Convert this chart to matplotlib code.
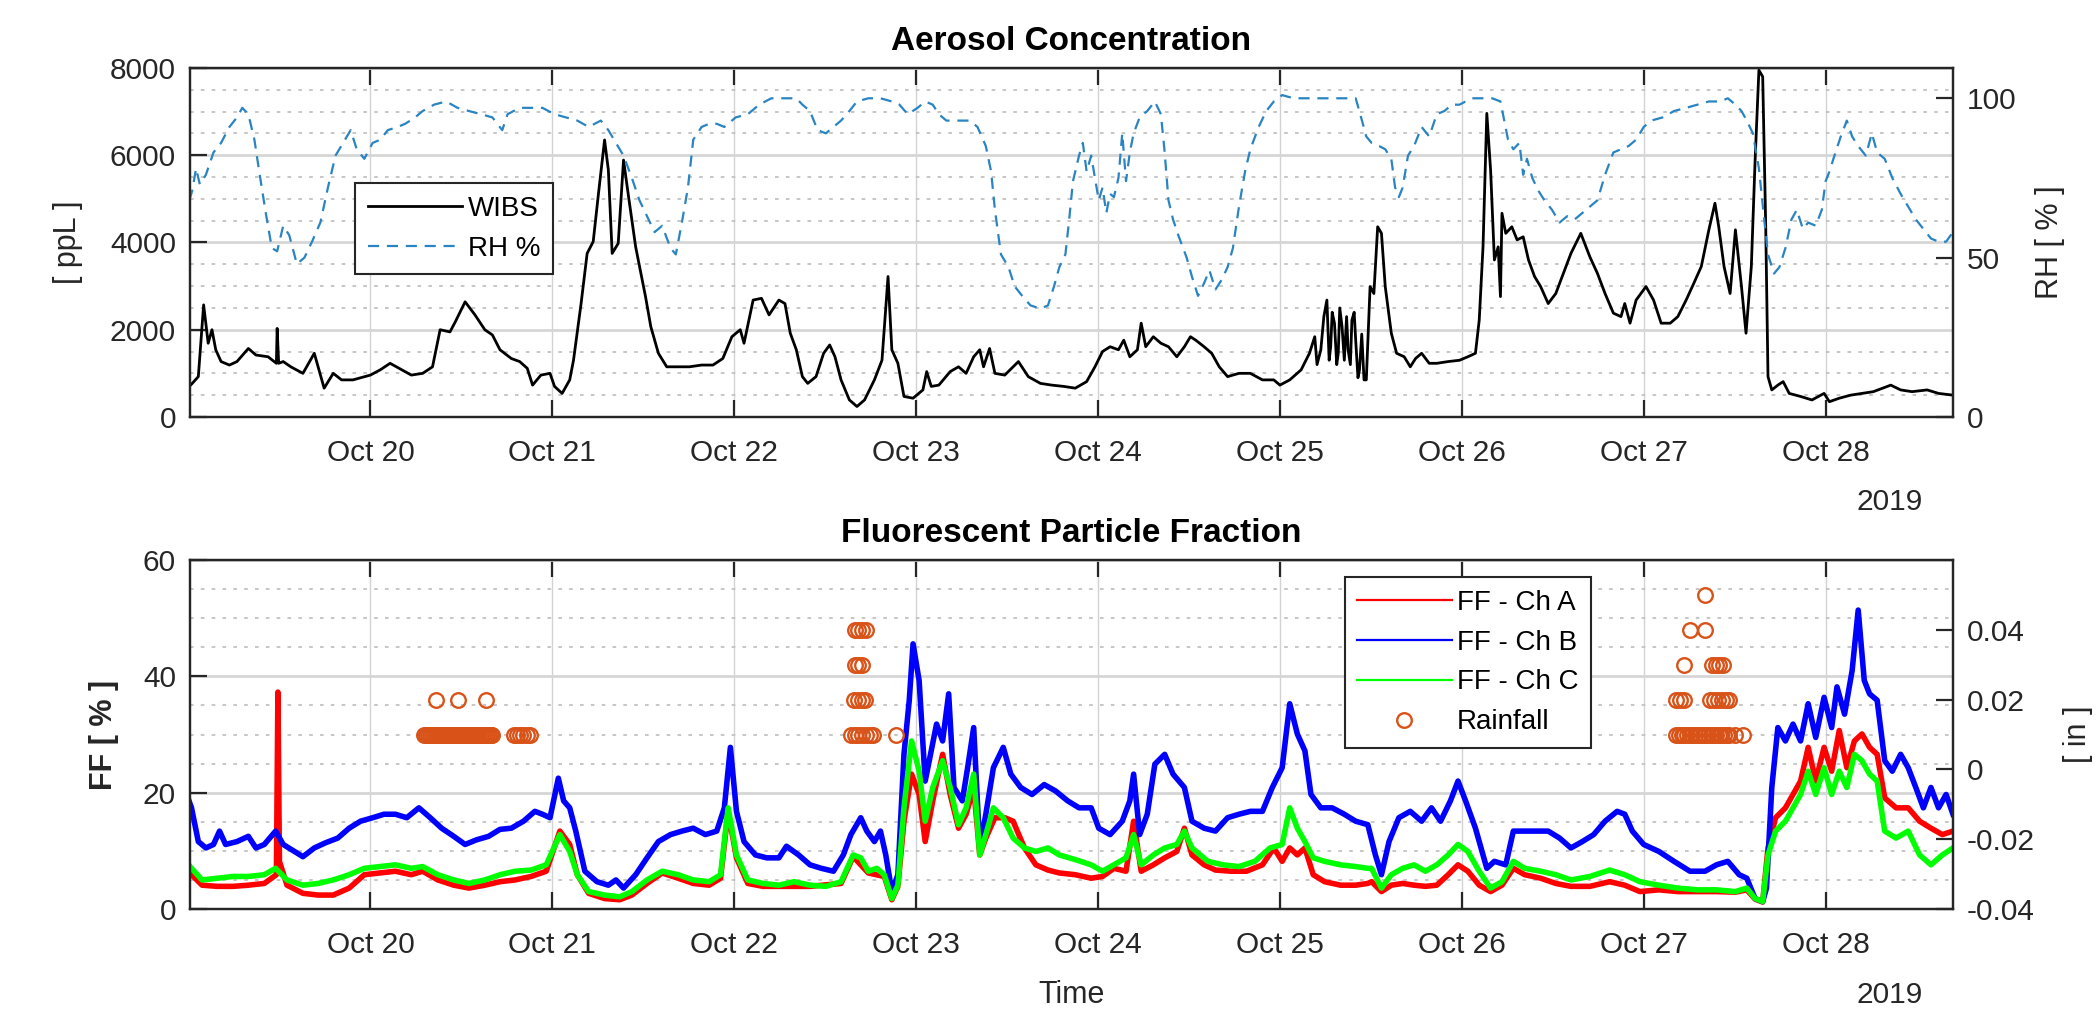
"""Aerosol concentration (WIBS + RH) and fluorescent particle fraction, 19-28 Oct 2019."""
import matplotlib
matplotlib.use("Agg")
import matplotlib.pyplot as plt
import matplotlib.dates as mdates
from matplotlib.lines import Line2D
from matplotlib.ticker import MultipleLocator, FuncFormatter
import numpy as np
import pandas as pd

START = pd.Timestamp("2019-10-19 00:00")

# hours after START
wibs_hours = [
    0.1, 0.5, 1.3, 2.0, 2.6, 3.1, 3.6, 4.3, 5.4, 6.4,
    7.9, 8.9, 10.5, 11.6, 11.7, 11.9, 12.5, 13.5, 15.1, 16.6,
    17.9, 19.1, 20.2, 21.7, 24.0, 25.3, 26.6, 27.8, 29.4, 30.9,
    32.2, 33.2, 34.5, 35.2, 36.5, 37.8, 39.1, 40.1, 41.1, 42.6,
    43.7, 44.7, 45.4, 46.5, 47.7, 48.3, 49.3, 50.3, 50.8, 51.8,
    52.6, 53.4, 54.1, 54.9, 55.4, 55.9, 56.7, 57.4, 58.0, 59.0,
    60.3, 61.0, 62.0, 63.1, 64.6, 66.1, 67.7, 69.2, 70.5, 71.7,
    72.8, 73.3, 74.5, 75.6, 76.6, 77.9,
    78.7, 79.4, 80.2, 81.0, 81.7, 82.8, 83.8, 84.6, 85.3, 86.1,
    87.2, 88.2, 89.2, 90.5, 91.5, 92.3, 92.8, 93.6, 94.4, 95.6,
    96.9, 97.4, 98.0, 99.0, 100.5, 101.6, 102.6, 103.6, 104.4, 104.9,
    105.7, 106.4, 107.7, 108.8, 109.5, 110.8, 112.4, 113.9, 115.5, 117.0,
    118.5, 119.6, 120.6, 121.6, 122.7, 123.4, 124.2, 125.2, 125.7, 126.3,
    127.3, 128.3, 129.3, 130.4, 131.4, 132.2, 132.9, 134.0, 135.0, 136.0,
    137.1, 138.6, 140.1, 141.7, 143.2, 144.0, 145.3, 146.8, 147.9, 148.6,
    148.9, 149.4, 149.8, 150.2, 150.5, 150.7, 150.9, 151.2, 151.5, 151.7,
    151.9, 152.2, 152.5, 152.8, 153.0, 153.3, 153.5, 153.8, 154.0, 154.3,
    154.5, 154.8, 155.1,
    155.4, 155.9, 156.4, 156.9, 157.4, 157.9, 158.7, 159.4, 160.4, 161.2,
    161.9, 162.7, 163.7, 164.7, 166.2, 167.7, 168.8, 169.8, 170.3, 170.8,
    171.3, 171.8, 172.3, 172.8, 173.1, 173.3, 173.8, 174.6, 175.3, 176.1,
    176.8, 177.6, 178.4, 179.4, 180.4, 181.4, 182.4, 183.7, 184.9, 185.9,
    186.9, 188.0, 189.0, 189.5, 190.2, 191.0, 192.3, 193.3, 194.3, 195.5,
    196.5, 197.6, 198.6, 199.6, 200.6, 201.4, 201.9, 202.6, 203.4, 204.1,
    204.9, 205.5, 206.2, 206.7, 207.2, 207.7, 208.1, 208.4, 208.9, 209.7,
    210.4, 211.2, 212.7, 214.2, 215.8, 216.5, 217.8, 219.3, 220.8, 222.3,
    224.6, 225.9, 227.4, 229.4, 230.9, 232.8,
]
wibs_ppl = [
    700, 770, 925, 2570, 1690, 2000, 1540, 1270, 1190, 1270,
    1570, 1420, 1380, 1230, 2030, 1230, 1270, 1150, 1000, 1460,
    660, 1000, 850, 850, 960, 1080, 1230, 1115, 960, 1000,
    1150, 2000, 1950, 2180, 2640, 2340, 2000, 1880, 1540, 1340,
    1270, 1115, 730, 960, 1000, 700, 540, 850, 1300, 2600,
    3750, 4020, 5130, 6350, 5660, 3750, 3980, 5890, 5130, 3900,
    2760, 2070, 1460, 1150, 1150, 1150, 1190, 1190, 1340, 1840,
    2000, 1690, 2680, 2720, 2340, 2680,
    2600, 1920, 1540, 925, 770, 925, 1460, 1650, 1380, 850,
    390, 240, 390, 850, 1300, 3220, 1540, 1230, 470, 430,
    620, 1040, 700, 730, 1040, 1150, 1000, 1380, 1540, 1150,
    1570, 1000, 960, 1150, 1270, 925, 770, 730, 700, 660,
    810, 1150, 1500, 1610, 1540, 1760, 1380, 1540, 2150, 1610,
    1840, 1690, 1610, 1380, 1610, 1840, 1760, 1610, 1460, 1150,
    925, 1000, 1000, 850, 850, 730, 850, 1080, 1460, 1840,
    1200, 1540, 2300, 2680, 1300, 1610, 2400, 2150, 1200, 1460,
    2500, 2070, 1300, 2300, 1540, 1200, 2220, 2400, 1760, 900,
    1080, 1900, 850,
    850, 2990, 2830, 4360, 4210, 2990, 1920, 1460, 1380, 1150,
    1340, 1460, 1230, 1230, 1270, 1300, 1380, 1460, 2220, 3900,
    6960, 5660, 3600, 3900, 2760, 4670, 4210, 4360, 4060, 4130,
    3600, 3220, 2990, 2600, 2830, 3290, 3750, 4210, 3670, 3290,
    2830, 2380, 2300, 2600, 2150, 2680, 2990, 2680, 2150, 2150,
    2300, 2680, 3060, 3450, 4290, 4900, 4360, 3450, 2830, 4290,
    2990, 1920, 3450, 5890, 7950, 7800, 4360, 925, 620, 730,
    810, 540, 470, 390, 540, 350, 430, 500, 540, 580,
    730, 620, 580, 620, 540, 500,
]

rh_hours = [
    0.1, 0.5, 1.0, 1.5, 2.3, 3.3, 4.3, 5.4, 6.4, 7.1,
    7.9, 8.7, 9.4, 10.2, 11.0, 11.7, 12.5, 13.3, 14.3, 15.3,
    16.3, 17.4, 18.4, 19.4, 20.4, 21.4, 22.2, 23.2, 24.3, 25.3,
    26.3, 27.6, 28.6, 29.9, 30.9, 32.4, 34.0, 35.5, 37.0, 38.6,
    40.1, 41.4, 42.1, 43.7, 45.2, 46.7, 48.3, 49.8, 51.3, 52.8,
    54.4, 55.4, 56.4, 57.4, 58.5, 59.5, 60.5, 61.5, 62.5, 63.6,
    64.3, 65.1, 65.9, 66.6, 67.7, 68.7, 69.7, 70.7, 72.2, 73.8,
    75.3, 76.9,
    77.9, 78.9, 80.2, 81.0, 82.0, 83.0, 84.1, 85.1, 86.1, 87.2,
    88.2, 89.7, 91.3, 92.8, 93.8, 94.9, 96.2, 97.2, 98.2, 99.0,
    100.0, 101.6, 103.1, 104.1, 105.2, 105.9, 106.4, 107.2, 108.2, 109.0,
    110.0, 111.1, 112.4, 113.4, 114.2, 114.9, 115.7, 116.2, 116.7, 117.5,
    118.0, 118.5, 119.1, 119.6, 120.1, 120.6, 121.1, 121.6, 122.1, 122.7,
    123.2, 123.7, 124.2, 124.7, 125.5, 126.5, 127.5, 128.3, 128.8, 129.3,
    129.9, 130.6, 131.7, 132.4, 133.2, 134.0, 134.7, 135.5, 136.3, 137.1,
    137.8, 138.6, 139.4, 140.1, 141.2, 142.2, 143.2, 144.3, 145.8, 147.9,
    149.9, 152.0, 154.0,
    154.6, 155.4, 156.1, 157.1, 157.9, 158.7, 159.2, 159.7, 160.2, 160.9,
    161.7, 162.7, 163.7, 164.7, 165.7, 166.7, 167.7, 169.3, 170.8, 172.0,
    173.1, 173.6, 174.1, 174.8, 175.6, 176.1, 176.6, 177.3, 178.1, 178.9,
    179.9, 180.9, 181.9, 182.9, 183.9, 184.9, 185.9, 186.9, 188.0, 189.0,
    190.0, 191.0, 192.0, 193.0, 194.5, 196.0, 197.6, 199.1, 200.6, 202.1,
    203.1, 204.1, 204.9, 205.6, 206.4, 207.2, 207.9, 208.4, 209.2, 209.9,
    210.7, 211.5, 212.2, 213.0, 213.7, 214.7, 215.5, 216.0, 216.5, 217.3,
    218.0, 218.8, 219.5, 220.3, 221.3, 222.1, 222.8, 223.8, 224.8, 225.9,
    226.9, 227.9, 228.9, 229.9, 230.9, 231.9, 232.8,
]
rh_pct = [
    68, 71, 78, 73, 76, 83, 86, 91, 94, 97,
    95, 87, 76, 64, 53, 52, 60, 57, 48, 50,
    55, 61, 72, 82, 86, 90, 84, 81, 86, 87,
    90, 91, 92, 94, 96, 98, 99, 97, 96, 95,
    94, 90, 95, 97, 97, 97, 95, 94, 93, 91,
    93, 90, 86, 82, 75, 68, 63, 58, 60, 53,
    51, 61, 72, 87, 91, 92, 92, 91, 94, 95,
    98, 100,
    100, 100, 100, 98, 96, 90, 89, 91, 93, 96,
    99, 100, 100, 99, 98, 95, 97, 99, 98, 95,
    93, 93, 93, 91, 85, 77, 65, 51, 47, 41,
    38, 35, 34, 35, 41, 47, 51, 62, 74, 82,
    86, 77, 82, 75, 68, 72, 64, 70, 69, 75,
    89, 74, 83, 89, 94, 96, 99, 95, 83, 68,
    62, 57, 50, 44, 38, 42, 46, 40, 43, 47,
    53, 66, 77, 84, 91, 96, 99, 101, 100, 100,
    100, 100, 100,
    95, 88, 86, 85, 84, 81, 72, 69, 72, 82,
    85, 91, 88, 95, 96, 98, 98, 100, 100, 100,
    99, 93, 87, 84, 86, 76, 81, 75, 71, 68,
    65, 61, 63, 62, 64, 66, 68, 76, 83, 84,
    85, 87, 91, 93, 94, 96, 97, 98, 99, 99,
    100, 98, 96, 93, 89, 78, 62, 51, 45, 47,
    53, 62, 65, 59, 61, 60, 65, 74, 77, 83,
    88, 93, 88, 85, 82, 89, 83, 81, 75, 70,
    66, 62, 59, 56, 55, 55, 58,
]

ffa_hours = [
    0.1, 0.4, 1.8, 3.8, 5.9, 7.9, 10.0, 11.6, 11.8, 12.0,
    13.0, 15.1, 17.1, 19.1, 21.2, 23.2, 25.3, 27.3, 29.4, 30.9,
    32.9, 35.0, 37.0, 39.1, 41.1, 43.1, 45.2, 47.2, 49.0, 50.3,
    51.3, 52.8, 54.9, 56.9, 58.5, 60.5, 62.5, 64.6, 66.6, 68.7,
    70.2, 71.2, 72.3, 73.8, 75.8, 77.9,
    82.0, 86.1, 87.7, 89.7, 91.8, 92.8, 93.6, 94.4, 95.4, 96.4,
    97.2, 98.2, 99.5, 100.5, 101.6, 102.6, 103.6, 104.4, 105.2, 106.4,
    107.7, 108.8, 110.3, 111.8, 113.4, 114.9, 117.0, 119.1, 120.6, 122.1,
    123.7, 124.7, 125.7, 127.3, 128.8, 130.4, 131.4, 132.4, 134.0, 135.5,
    137.6, 139.6, 141.7, 143.2, 144.3, 145.3, 146.3, 147.3, 148.4, 149.9,
    152.0, 154.0, 155.6,
    156.1, 157.4, 158.7, 160.2, 161.7, 163.2, 164.7, 166.2, 167.5, 168.8,
    170.3, 171.8, 173.3, 174.8, 176.3, 178.4, 180.4, 182.4, 184.9, 187.5,
    189.5, 191.5, 194.0, 196.5, 199.1, 201.6, 204.1, 205.6, 206.7, 207.7,
    208.4, 209.4, 210.7, 211.7, 212.7, 213.7, 214.7, 215.8, 216.8, 217.8,
    218.8, 219.8, 220.8, 221.8, 222.8, 223.8, 225.3, 226.9, 228.4, 229.9,
    231.4, 232.8,
]
ffa_pct = [
    6.5, 5.9, 4.1, 3.9, 3.9, 4.1, 4.4, 5.9, 37.3, 8.2,
    4.1, 2.7, 2.4, 2.4, 3.6, 5.9, 6.2, 6.5, 5.9, 6.5,
    5.0, 4.1, 3.6, 4.1, 4.7, 5.0, 5.6, 6.5, 13.4, 11.1,
    5.9, 2.7, 1.8, 1.6, 2.4, 4.4, 6.2, 5.3, 4.4, 4.1,
    5.3, 16.8, 8.8, 4.4, 3.9, 3.9,
    3.9, 4.4, 9.0, 6.2, 5.6, 1.6, 3.9, 15.1, 23.2, 19.7,
    11.6, 18.6, 26.6, 19.7, 13.9, 16.3, 20.9, 9.3, 12.2, 15.7,
    15.7, 15.1, 10.5, 7.6, 6.7, 6.2, 5.9, 5.3, 5.6, 7.0,
    6.5, 15.1, 6.5, 7.6, 8.8, 9.9, 13.9, 9.3, 7.6, 6.7,
    6.5, 6.5, 7.6, 10.5, 8.2, 10.5, 9.3, 10.5, 5.9, 4.7,
    4.1, 4.1, 4.4,
    4.7, 3.0, 4.1, 4.4, 4.1, 3.9, 4.1, 5.9, 7.6, 6.5,
    4.1, 3.0, 4.1, 7.0, 5.9, 5.3, 4.4, 3.9, 3.9, 4.7,
    4.1, 3.0, 3.3, 3.0, 3.0, 3.0, 2.9, 3.3, 1.7, 1.2,
    10.5, 15.7, 17.4, 19.7, 22.0, 27.8, 22.0, 27.8, 23.7, 30.7,
    24.3, 28.9, 30.1, 27.8, 26.6, 19.1, 17.4, 17.4, 15.1, 13.9,
    12.8, 13.4,
]

ffb_hours = [
    0.1, 0.4, 1.3, 2.3, 3.3, 4.1, 4.9, 6.4, 7.9, 8.9,
    10.0, 11.5, 12.5, 14.0, 15.1, 16.6, 18.1, 19.7, 21.2, 22.7,
    24.3, 25.8, 27.3, 28.8, 30.4, 31.9, 33.4, 35.0, 36.5, 38.0,
    39.6, 41.1, 42.6, 44.2, 45.7, 46.7, 47.7, 48.8, 49.5, 50.3,
    51.1, 52.3, 53.9, 55.4, 56.4, 57.4, 59.0, 60.5, 62.0, 63.6,
    65.1, 66.6, 68.2, 69.7, 70.7, 71.5, 72.3, 73.3, 74.8, 76.3,
    77.9,
    78.9, 80.5, 82.0, 83.5, 85.1, 86.4, 87.4, 88.7, 89.5, 90.5,
    91.3, 92.0, 92.8, 93.6, 94.4, 95.1, 95.6, 96.4, 97.2, 98.0,
    98.7, 99.5, 100.3, 101.0, 102.1, 102.8, 103.6, 104.4, 105.2, 106.2,
    107.5, 108.5, 109.8, 111.3, 112.9, 114.4, 116.0, 117.5, 119.1, 120.1,
    121.6, 123.2, 124.2, 124.7, 125.5, 126.5, 127.5, 128.8, 129.9, 131.4,
    132.4, 134.0, 135.5, 137.1, 138.6, 140.1, 141.7, 143.0, 144.3, 145.3,
    146.3, 147.3, 148.1, 149.4, 150.9, 152.5, 154.0, 155.6,
    156.6, 157.4, 158.4, 159.7, 161.2, 162.7, 164.0, 165.2, 166.5, 167.5,
    168.5, 169.8, 171.3, 172.3, 173.8, 174.8, 176.3, 177.9, 179.4, 180.9,
    182.4, 183.9, 185.4, 186.9, 188.5, 189.5, 190.5, 192.0, 194.0, 196.0,
    198.1, 200.1, 201.6, 203.1, 204.6, 205.6, 206.7, 207.7, 208.2, 208.9,
    209.7, 210.7, 211.7, 212.7, 213.7, 214.7, 215.8, 216.8, 217.5, 218.5,
    219.5, 220.3, 221.1, 221.8, 222.8, 223.8, 224.8, 225.9, 226.9, 227.9,
    228.9, 229.9, 230.9, 231.9, 232.8,
]
ffb_pct = [
    18.5, 17.4, 11.6, 10.5, 11.1, 13.4, 11.1, 11.6, 12.5, 10.5,
    11.1, 13.4, 11.1, 9.9, 9.0, 10.5, 11.4, 12.2, 13.9, 15.1,
    15.7, 16.3, 16.3, 15.7, 17.4, 15.7, 13.9, 12.5, 11.1, 11.9,
    12.5, 13.7, 13.9, 15.1, 16.8, 16.3, 15.7, 22.5, 18.6, 17.4,
    13.4, 6.5, 4.7, 4.1, 5.0, 3.6, 5.9, 8.8, 11.6, 12.8,
    13.4, 13.9, 12.8, 13.4, 17.4, 27.8, 16.8, 11.6, 9.3, 8.8,
    8.8,
    10.8, 9.3, 7.6, 7.0, 6.5, 9.3, 12.8, 15.7, 13.4, 11.6,
    13.4, 9.3, 3.0, 5.9, 26.6, 35.9, 45.6, 39.3, 22.0, 27.2,
    31.8, 28.9, 37.0, 20.9, 18.6, 24.3, 31.2, 10.5, 16.3, 24.3,
    27.8, 23.2, 20.9, 19.7, 21.4, 20.3, 18.6, 17.4, 17.4, 13.9,
    12.8, 15.1, 18.6, 23.2, 12.8, 16.3, 24.9, 26.6, 23.2, 20.9,
    15.1, 13.9, 13.4, 15.7, 16.3, 16.8, 16.8, 20.9, 24.3, 35.3,
    30.1, 27.2, 19.7, 17.4, 17.4, 16.3, 15.1, 14.5,
    9.3, 5.9, 11.6, 15.7, 16.8, 15.1, 17.4, 15.1, 18.6, 22.0,
    18.6, 13.9, 7.0, 8.2, 7.6, 13.4, 13.4, 13.4, 13.4, 12.2,
    10.5, 11.6, 12.8, 15.1, 16.8, 16.3, 13.4, 11.1, 9.9, 8.2,
    6.5, 6.5, 7.6, 8.2, 5.9, 5.3, 1.8, 1.3, 3.6, 20.9,
    31.2, 28.9, 31.8, 28.9, 35.3, 29.5, 36.4, 31.2, 38.2, 33.5,
    41.0, 51.4, 39.3, 37.0, 35.9, 25.5, 23.7, 26.6, 24.3, 20.9,
    17.4, 20.9, 17.4, 19.7, 16.3,
]

ffc_hours = [
    0.1, 0.4, 1.8, 3.8, 5.9, 7.9, 10.0, 11.5, 13.0, 15.1,
    17.1, 19.1, 21.2, 23.2, 25.3, 27.3, 29.4, 30.9, 32.9, 35.0,
    37.0, 39.1, 41.1, 43.1, 45.2, 47.2, 49.0, 50.3, 51.3, 52.8,
    54.9, 56.9, 58.5, 60.5, 62.5, 64.6, 66.6, 68.7, 70.2, 71.2,
    72.3, 73.8, 75.8, 77.9,
    79.9, 82.0, 84.1, 86.1, 87.7, 88.7, 89.7, 90.8, 91.8, 92.8,
    93.6, 94.4, 95.4, 96.4, 97.2, 98.2, 99.5, 100.5, 101.6, 102.6,
    103.6, 104.4, 105.2, 106.2, 107.5, 108.8, 110.3, 111.8, 113.4, 114.9,
    117.0, 119.1, 120.6, 122.1, 123.7, 124.7, 125.7, 127.3, 128.8, 130.4,
    131.4, 132.4, 134.5, 136.5, 138.6, 140.7, 142.7, 144.3, 145.3, 146.3,
    147.3, 148.4, 149.9, 152.0, 154.0, 155.6,
    156.1, 157.4, 158.7, 160.2, 161.7, 163.2, 164.7, 166.2, 167.5, 168.8,
    170.3, 171.8, 173.3, 174.8, 176.3, 178.4, 180.4, 182.4, 184.9, 187.5,
    189.5, 191.5, 194.0, 196.5, 199.1, 201.6, 204.1, 205.6, 206.7, 207.7,
    208.4, 209.4, 210.7, 211.7, 212.7, 213.7, 214.7, 215.8, 216.8, 217.8,
    218.8, 219.8, 220.8, 221.8, 222.8, 223.8, 225.3, 226.9, 228.4, 229.9,
    231.4, 232.8,
]
ffc_pct = [
    7.5, 7.0, 5.0, 5.3, 5.6, 5.6, 5.9, 7.0, 5.0, 4.1,
    4.4, 5.0, 5.9, 7.0, 7.3, 7.6, 7.0, 7.3, 5.9, 5.0,
    4.4, 5.0, 5.9, 6.5, 6.7, 7.6, 12.8, 9.9, 5.9, 3.0,
    2.4, 2.1, 3.0, 5.0, 6.5, 5.9, 5.0, 4.7, 5.9, 17.4,
    9.3, 5.0, 4.4, 4.1,
    4.7, 4.1, 3.9, 4.7, 9.3, 8.8, 6.5, 7.0, 5.9, 1.8,
    4.1, 17.4, 28.9, 23.7, 15.1, 20.9, 25.5, 20.9, 14.5, 17.4,
    23.2, 9.3, 12.8, 17.4, 15.7, 12.2, 10.5, 9.9, 10.5, 9.3,
    8.5, 7.6, 6.5, 7.6, 8.8, 12.8, 7.6, 9.3, 10.5, 11.1,
    13.4, 10.5, 8.2, 7.6, 7.3, 8.2, 10.5, 11.1, 17.4, 13.9,
    11.6, 8.8, 8.2, 7.6, 7.3, 7.0,
    7.0, 3.6, 5.9, 7.0, 7.6, 6.5, 7.6, 9.3, 11.1, 9.9,
    6.5, 3.6, 4.7, 8.2, 7.0, 6.5, 5.9, 5.0, 5.6, 6.7,
    5.9, 4.7, 4.1, 3.6, 3.3, 3.3, 3.0, 3.6, 1.8, 1.3,
    9.3, 13.4, 15.1, 17.4, 19.7, 23.7, 19.7, 24.3, 19.7, 23.7,
    20.9, 26.6, 25.5, 23.2, 22.0, 13.4, 12.2, 13.4, 9.3, 7.6,
    9.3, 10.5,
]

rain_hours = [
    31.1, 31.35, 31.6, 31.85, 32.1, 32.35, 32.6, 32.85, 33.1, 33.35,
    33.6, 33.85, 34.1, 34.35, 34.6, 34.85, 35.1, 35.35, 35.6, 35.85,
    36.1, 36.35, 36.6, 36.85, 37.1, 37.35, 37.6, 37.85, 38.1, 38.35,
    38.6, 38.85, 39.1, 39.35, 39.6, 39.85, 40.1,
    43.0, 43.4, 43.8, 44.2, 44.6, 45.0,
    32.7, 35.5, 39.3,
    87.4, 87.9, 88.4, 88.9, 89.4, 89.9, 90.3, 93.3,
    87.8, 88.3, 88.8, 89.3,
    88.0, 88.4, 88.8,
    87.9, 88.4, 88.9, 89.4,
    196.3, 196.65, 197.0, 197.35, 197.7, 198.05, 198.4, 198.75, 199.1, 199.45,
    199.8, 200.15, 200.5, 200.85, 201.2, 201.55, 201.9, 202.25, 202.6, 202.95,
    203.3, 204.1, 205.1,
    196.3, 196.8, 197.3, 200.8, 201.3, 201.8, 202.3, 202.8, 203.3,
    197.3, 201.0, 201.5, 202.0, 202.5,
    198.1, 200.1,
    200.1,
]
rain_inches = [
    0.01, 0.01, 0.01, 0.01, 0.01, 0.01, 0.01, 0.01, 0.01, 0.01,
    0.01, 0.01, 0.01, 0.01, 0.01, 0.01, 0.01, 0.01, 0.01, 0.01,
    0.01, 0.01, 0.01, 0.01, 0.01, 0.01, 0.01, 0.01, 0.01, 0.01,
    0.01, 0.01, 0.01, 0.01, 0.01, 0.01, 0.01,
    0.01, 0.01, 0.01, 0.01, 0.01, 0.01,
    0.02, 0.02, 0.02,
    0.01, 0.01, 0.01, 0.01, 0.01, 0.01, 0.01, 0.01,
    0.02, 0.02, 0.02, 0.02,
    0.03, 0.03, 0.03,
    0.04, 0.04, 0.04, 0.04,
    0.01, 0.01, 0.01, 0.01, 0.01, 0.01, 0.01, 0.01, 0.01, 0.01,
    0.01, 0.01, 0.01, 0.01, 0.01, 0.01, 0.01, 0.01, 0.01, 0.01,
    0.01, 0.01, 0.01,
    0.02, 0.02, 0.02, 0.02, 0.02, 0.02, 0.02, 0.02, 0.02,
    0.03, 0.03, 0.03, 0.03, 0.03,
    0.04, 0.04,
    0.05,
]

INK = "#262626"
RH_BLUE = "#2a84c2"
RAIN_ORANGE = "#d95319"
TICK_FS = 21.5
FF_LW = 4.0


def when(hours):
    return START + pd.to_timedelta(np.asarray(hours, dtype=float), unit="h")


def dress(ax, twin):
    ax.set_xlim(when([0.2, 232.8]))
    ax.xaxis.set_major_locator(mdates.DayLocator(bymonthday=range(20, 29)))
    ax.xaxis.set_major_formatter(mdates.DateFormatter("%b %d"))
    ax.grid(True, axis="x", which="major", color="#d2d2d2", lw=1.0)
    ax.grid(True, axis="y", which="major", color="#d6d6d6", lw=2.0)
    ax.grid(True, axis="y", which="minor", color="#c2c2c2", lw=1.3, ls=(0, (2, 4)))
    ax.tick_params(which="major", direction="in", length=12, width=1.6,
                   colors=INK, labelsize=TICK_FS, top=True)
    ax.tick_params(axis="x", pad=16)
    ax.tick_params(axis="y", pad=10)
    ax.tick_params(which="minor", length=0)
    twin.tick_params(axis="y", direction="in", length=12, width=1.6,
                     colors=INK, labelsize=TICK_FS, pad=10)
    for a in (ax, twin):
        for sp in a.spines.values():
            sp.set_color(INK)
            sp.set_linewidth(1.6)
    ax.text(0.964, -0.245, "2019", transform=ax.transAxes, ha="center",
            va="center", fontsize=TICK_FS, color=INK)


def side_label(ax, text, x, bold=False):
    lab = ax.set_ylabel(text, fontsize=22, color=INK,
                        fontweight="bold" if bold else "normal")
    lab.set_verticalalignment("center")
    ax.yaxis.set_label_coords(x, 0.5)


plt.rcParams["font.family"] = ["Liberation Sans", "DejaVu Sans"]

fig = plt.figure(figsize=(20.97, 10.15), dpi=100)
ax_top = fig.add_axes([0.0906, 0.5892, 0.8407, 0.3438])
ax_bot = fig.add_axes([0.0906, 0.1044, 0.8407, 0.3438])
rh_ax = ax_top.twinx()
rain_ax = ax_bot.twinx()

# --- aerosol concentration ---
ax_top.plot(when(wibs_hours), wibs_ppl, color="black", lw=2.0, label="WIBS")
rh_ax.plot(when(rh_hours), rh_pct, color=RH_BLUE, lw=1.6, dashes=(5, 3.5), label="RH %")
ax_top.set_ylim(0, 8000)
ax_top.yaxis.set_major_locator(MultipleLocator(2000))
ax_top.yaxis.set_minor_locator(MultipleLocator(500))
rh_ax.set_ylim(0, 109.5)
rh_ax.set_yticks([0, 50, 100])
dress(ax_top, rh_ax)
ax_top.set_title("Aerosol Concentration", fontsize=24, fontweight="bold", pad=13)
side_label(ax_top, "[ ppL ]", -0.069)
side_label(rh_ax, "RH [ % ]", 1.055)

h1, l1 = ax_top.get_legend_handles_labels()
h2, l2 = rh_ax.get_legend_handles_labels()
leg = rh_ax.legend(h1 + h2, l1 + l2, loc="upper left", bbox_to_anchor=(0.0936, 0.670),
                   borderaxespad=0, fontsize=20, fancybox=False, framealpha=1,
                   edgecolor=INK, handlelength=3.4, handletextpad=0.2,
                   labelspacing=0.5, borderpad=0.45)
leg.get_frame().set_linewidth(1.5)

# --- fluorescent particle fraction ---
ax_bot.plot(when(ffa_hours), ffa_pct, color="#ff0000", lw=FF_LW)
ax_bot.plot(when(ffb_hours), ffb_pct, color="#0000ff", lw=FF_LW)
ax_bot.plot(when(ffc_hours), ffc_pct, color="#00ff00", lw=FF_LW)
rain_ax.plot(when(rain_hours), rain_inches, ls="none", marker="o", ms=10.5,
             mfc="none", mec=RAIN_ORANGE, mew=1.7)
ax_bot.set_ylim(0, 60)
ax_bot.yaxis.set_major_locator(MultipleLocator(20))
ax_bot.yaxis.set_minor_locator(MultipleLocator(5))
rain_ax.set_ylim(-0.04, 0.06)
rain_ax.set_yticks([-0.04, -0.02, 0, 0.02, 0.04])
rain_ax.yaxis.set_major_formatter(FuncFormatter(lambda v, _: "0" if abs(v) < 1e-9 else f"{v:g}"))
dress(ax_bot, rain_ax)
ax_bot.set_title("Fluorescent Particle Fraction", fontsize=24, fontweight="bold", pad=13)
side_label(ax_bot, "FF [ % ]", -0.049, bold=True)
side_label(rain_ax, "[ in ]", 1.0709)
xl = ax_bot.set_xlabel("Time", fontsize=22, color=INK)
xl.set_verticalalignment("center")
ax_bot.xaxis.set_label_coords(0.5, -0.245)

ff_handles = [
    Line2D([], [], color="#ff0000", lw=1.6, label="FF - Ch A"),
    Line2D([], [], color="#0000ff", lw=1.6, label="FF - Ch B"),
    Line2D([], [], color="#00ff00", lw=1.6, label="FF - Ch C"),
    Line2D([], [], ls="none", marker="o", ms=10.5, mfc="none", mec=RAIN_ORANGE,
           mew=1.7, label="Rainfall"),
]
leg2 = rain_ax.legend(handles=ff_handles, loc="upper left", bbox_to_anchor=(0.655, 0.951),
                      borderaxespad=0, fontsize=20, fancybox=False, framealpha=1,
                      edgecolor=INK, handlelength=3.4, handletextpad=0.2,
                      labelspacing=0.5, borderpad=0.45, numpoints=1)
leg2.get_frame().set_linewidth(1.5)

fig.savefig("out.png", dpi=100, facecolor="white")
